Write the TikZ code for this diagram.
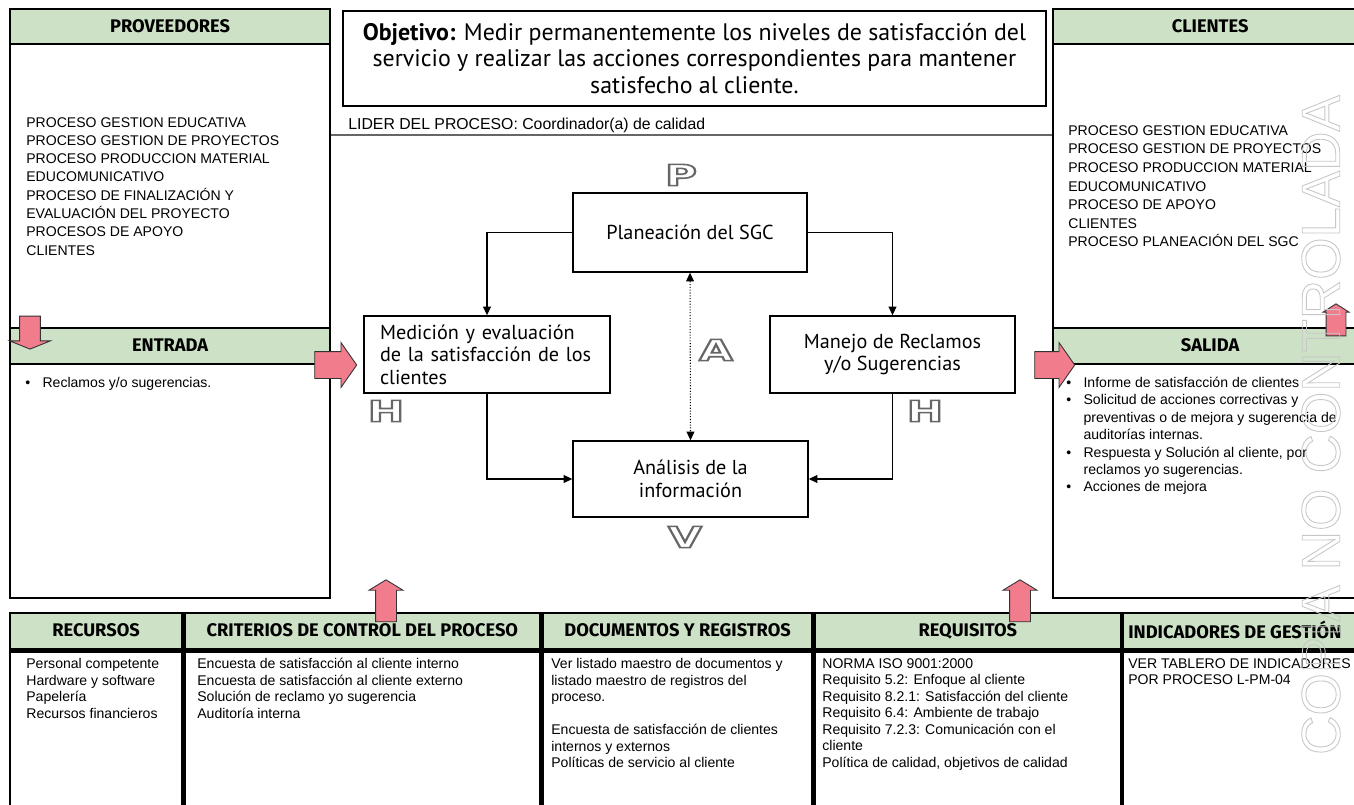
\documentclass[tikz,border=0pt]{standalone}
\usepackage{fontspec}
\setmainfont{Liberation Sans}
\newfontfamily\hdfont{Fira Sans}
\newfontfamily\boxfont{PT Sans}
\newfontfamily\letfont{DejaVu Sans}
\usetikzlibrary{arrows.meta, positioning, shapes.arrows}

\definecolor{hdgreen}{RGB}{205,225,198}
\definecolor{arrowpink}{RGB}{241,124,140}
\newcommand\outl[2][0.5]{\special{pdf:literal direct 1 Tr #1 w}#2\special{pdf:literal direct 0 Tr}}

\begin{document}
\begin{tikzpicture}[x=0.02cm, y=-0.02cm,
  frame/.style={draw, line width=1.3pt, anchor=north west, inner sep=0pt},
  hdr/.style={draw, fill=hdgreen, line width=1.3pt, anchor=north west, inner sep=0pt,
              text height=7.6pt, text depth=1.2pt,
              font=\hdfont\bfseries\fontsize{10.4}{12}\selectfont},
  lst/.style={anchor=north west, align=left, inner sep=0pt, font=\fontsize{8}{10.4}\selectfont},
  bot/.style={anchor=north west, align=left, inner sep=0pt, font=\fontsize{8}{9.4}\selectfont},
  cbox/.style={draw, line width=0.8pt, inner sep=0pt, font=\boxfont\fontsize{11.5}{12.8}\selectfont},
  conn/.style={line width=0.7pt, -{Triangle[length=5pt, width=4.5pt]}},
  blockarr/.style={single arrow, draw=black!80, fill=arrowpink, line width=0.5pt,
                   inner xsep=0pt, minimum width=0pt},
  pdca/.style={font=\letfont\bfseries\fontsize{16.5}{16.5}\selectfont, text=black!60, inner sep=0pt}
]
\useasboundingbox (0,0) rectangle (1354,804);
\clip (0,0) rectangle (1354,804);

\node[hdr, minimum width=6.4cm, minimum height=0.7cm] (hProv) at (9,8) {PROVEEDORES};
\node[hdr, minimum width=6.4cm, minimum height=0.72cm] (hEnt) at (9,327) {ENTRADA};
\node[frame, minimum width=6.4cm, minimum height=11.78cm] (colIzq) at (9,8) {};

\node[hdr, minimum width=6.28cm, minimum height=0.7cm] (hCli) at (1052,8) {CLIENTES};
\node[hdr, minimum width=6.28cm, minimum height=0.72cm] (hSal) at (1052,327) {SALIDA};
\node[frame, minimum width=6.28cm, minimum height=11.78cm] (colDer) at (1052,8) {};

\node[lst] (provList) at (26,117) {PROCESO GESTION EDUCATIVA\\PROCESO GESTION DE PROYECTOS\\
  PROCESO PRODUCCION MATERIAL\\EDUCOMUNICATIVO\\PROCESO DE FINALIZACIÓN Y\\
  EVALUACIÓN DEL PROYECTO\\PROCESOS DE APOYO\\CLIENTES};
\node[lst] (entList) at (25,377) {\textbullet\hspace{7pt}Reclamos y/o sugerencias.};
\node[lst, font=\fontsize{8}{10.6}\selectfont] (cliList) at (1068,125) {PROCESO GESTION EDUCATIVA\\
  PROCESO GESTION DE PROYECTOS\\PROCESO PRODUCCION MATERIAL\\EDUCOMUNICATIVO\\
  PROCESO DE APOYO\\CLIENTES\\PROCESO PLANEACIÓN DEL SGC};
\node[lst, font=\fontsize{8}{9.9}\selectfont] (salList) at (1066,375) {%
  \begin{tabular}{@{}l@{\hspace{7pt}}l@{}}
  \textbullet & Informe de satisfacción de clientes\\
  \textbullet & Solicitud de acciones correctivas y\\
              & preventivas o de mejora y sugerencia de\\
              & auditorías internas.\\
  \textbullet & Respuesta y Solución al cliente, por\\
              & reclamos yo sugerencias.\\
  \textbullet & Acciones de mejora
  \end{tabular}};

\node[draw, line width=1.1pt, anchor=north west, minimum width=14.06cm, minimum height=1.9cm,
      align=center, font=\boxfont\fontsize{13.6}{15}\selectfont] (obj) at (342,10)
     {\textbf{Objetivo:} Medir permanentemente los niveles de satisfacción del\\
      servicio y realizar las acciones correspondientes para mantener\\satisfecho al cliente.};
\node[anchor=west, inner sep=0pt, font=\fontsize{9}{10}\selectfont] (lider) at (348,125)
     {LIDER DEL PROCESO: Coordinador(a) de calidad};
\coordinate (lid) at (0,135);
\draw[black!60, line width=0.6pt] (colIzq.east |- lid) -- (colDer.west |- lid);

\node[cbox, minimum width=4.68cm, minimum height=1.58cm] (plan) at (690,232.5) {Planeación del SGC};
\node[cbox, minimum width=4.92cm, minimum height=1.54cm, text width=4.28cm, align=left] (medic) at (487,354.5)
     {Medición y evaluación\\de la satisfacción de los\\clientes};
\node[cbox, minimum width=4.9cm, minimum height=1.54cm, align=center] (manejo) at (892.5,354.5)
     {Manejo de Reclamos\\y/o Sugerencias};
\node[cbox, minimum width=4.7cm, minimum height=1.52cm, align=center] (anal) at (690.5,479)
     {Análisis de la\\información};

\draw[conn] (plan.west) -| (medic.north);
\draw[conn] (plan.east) -| (manejo.north);
\draw[conn] (medic.south) |- (anal.west);
\draw[conn] (manejo.south) |- (anal.east);
\draw[line width=0.6pt, densely dotted, {Triangle[length=5pt, width=4.5pt]}-{Triangle[length=5pt, width=4.5pt]}]
  (plan.south) -- (anal.north);

\node[pdca] (letP) at (681,175) {\scalebox{1.5}[1]{\outl[0.9]{P}}};
\node[pdca] (letA) at (716,350) {\scalebox{1.5}[1]{\outl[0.9]{A}}};
\node[pdca] (letH1) at (386,411) {\scalebox{1.5}[1]{\outl[0.9]{H}}};
\node[pdca] (letH2) at (925,411) {\scalebox{1.5}[1]{\outl[0.9]{H}}};
\node[pdca] (letV) at (685,537) {\scalebox{1.5}[1]{\outl[0.9]{V}}};

\node[hdr, minimum width=3.44cm, minimum height=0.72cm] (hRec) at (9,612) {RECURSOS};
\node[hdr, minimum width=7.12cm, minimum height=0.72cm] (hCri) at (hRec.north east) {CRITERIOS DE CONTROL DEL PROCESO};
\node[hdr, minimum width=5.4cm, minimum height=0.72cm] (hDoc) at (hCri.north east) {DOCUMENTOS Y REGISTROS};
\node[hdr, minimum width=6.12cm, minimum height=0.72cm] (hReq) at (hDoc.north east) {REQUISITOS};
\node[hdr, minimum width=5.2cm, minimum height=0.72cm] (hInd) at (hReq.north east) {};
\node[anchor=west, inner sep=0pt, font=\hdfont\bfseries\fontsize{10.4}{12}\selectfont] (tInd) at (1128,630)
     {INDICADORES DE GESTIÓN};
\node[frame, minimum width=3.44cm, minimum height=3.84cm] (bRec) at (hRec.south west) {};
\node[frame, minimum width=7.12cm, minimum height=3.84cm] (bCri) at (hCri.south west) {};
\node[frame, minimum width=5.4cm, minimum height=3.84cm] (bDoc) at (hDoc.south west) {};
\node[frame, minimum width=6.12cm, minimum height=3.84cm] (bReq) at (hReq.south west) {};
\node[frame, minimum width=5.2cm, minimum height=3.84cm] (bInd) at (hInd.south west) {};

\node[bot] (recList) at (26,658) {Personal competente\\Hardware y software\\Papelería\\Recursos financieros};
\node[bot] (criList) at (197,658) {Encuesta de satisfacción al cliente interno\\
  Encuesta de satisfacción al cliente externo\\Solución de reclamo yo sugerencia\\Auditoría interna};
\node[bot] (docList) at (551,658) {Ver listado maestro de documentos y\\listado maestro de registros del\\
  proceso.\\[9.4pt]Encuesta de satisfacción de clientes\\internos y externos\\Políticas de servicio al cliente};
\node[bot] (reqList) at (822,658) {NORMA ISO 9001:2000\\Requisito 5.2: Enfoque al cliente\\
  Requisito 8.2.1: Satisfacción del cliente\\Requisito 6.4: Ambiente de trabajo\\
  Requisito 7.2.3: Comunicación con el\\cliente\\Política de calidad, objetivos de calidad};
\node[bot] (indList) at (1128,658) {VER TABLERO DE INDICADORES\\POR PROCESO L-PM-04};

\node[blockarr, rotate=-90, minimum height=0.66cm, inner ysep=0.2cm, single arrow head extend=0.2cm,
      single arrow tip angle=136] (arrProv) at (30,330.5) {};
\node[blockarr, minimum height=0.84cm, inner ysep=0.26cm, single arrow head extend=0.18cm,
      single arrow tip angle=110] (arrEnt) at (331,365) {};
\node[blockarr, minimum height=0.8cm, inner ysep=0.26cm, single arrow head extend=0.18cm,
      single arrow tip angle=110] (arrSal) at (1050,365) {};
\node[blockarr, rotate=90, minimum height=0.64cm, inner ysep=0.19cm, single arrow head extend=0.06cm,
      single arrow tip angle=115] (arrCli) at (1336,323) {};
\node[blockarr, rotate=90, minimum height=0.84cm, inner ysep=0.2cm, single arrow head extend=0.13cm,
      single arrow tip angle=117] (arrCri) at (386,604) {};
\node[blockarr, rotate=90, minimum height=0.84cm, inner ysep=0.2cm, single arrow head extend=0.13cm,
      single arrow tip angle=117] (arrReq) at (1020,604) {};

\node[rotate=90, inner sep=0pt, text=black!22, font=\fontsize{31}{31}\selectfont] (marca) at (1321,425)
     {\outl{COPIA NO CONTROLADA}};
\end{tikzpicture}
\end{document}
